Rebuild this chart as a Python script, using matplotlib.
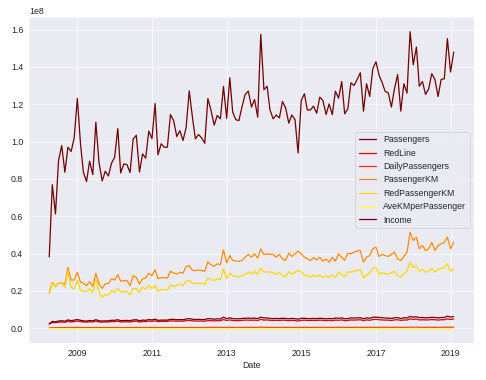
import numpy as np
import pandas as pd
import matplotlib
matplotlib.use('Agg')
import matplotlib.pyplot as plt
import seaborn as sns

# monthly series, Apr 2008 .. Feb 2019 (values in millions unless noted)
passengers = [
    38.2, 76.9, 61.2, 89.8, 97.9, 83.6, 97.0, 94.7, 102.0,
    123.1, 98.8, 83.6, 78.6, 89.5, 82.3, 110.4, 88.9, 78.9, 84.1, 81.6, 88.4,
    91.6, 107.0, 83.2, 88.0, 87.7, 83.4, 101.3, 103.4, 83.7, 93.4, 91.1, 105.6,
    101.6, 120.4, 92.9, 98.8, 97.0, 97.0, 114.5, 111.3, 102.7, 105.9, 100.6, 107.4,
    127.2, 113.1, 101.5, 103.8, 102.0, 99.1, 123.1, 116.7, 108.8, 114.0, 112.2, 129.6,
    112.4, 134.2, 115.8, 111.7, 111.3, 118.8, 125.3, 127.1, 118.5, 122.6, 113.1, 157.5,
    127.8, 129.7, 117.0, 112.2, 114.3, 112.7, 121.5, 118.1, 109.9, 114.3, 111.8, 93.9,
    122.1, 125.6, 117.0, 117.0, 119.0, 115.2, 123.8, 122.1, 114.5, 120.2, 114.5, 127.0,
    123.3, 132.2, 114.9, 117.6, 131.5, 130.1, 133.3, 136.9, 116.3, 131.0, 124.2, 139.1,
    142.8, 135.5, 131.9, 126.9, 126.2, 118.5, 128.3, 136.0, 116.3, 131.0, 126.0, 158.9,
    141.2, 150.7, 129.7, 132.2, 125.3, 128.3, 136.4, 133.3, 124.2, 133.3, 133.7, 155.2,
    137.3, 148.0]

red_line = [
    2.2, 3.0, 2.9, 3.2, 3.3, 3.1, 3.6, 3.3, 3.5,
    3.8, 3.5, 3.3, 3.2, 3.4, 3.3, 3.7, 3.3, 3.2, 3.3, 3.3, 3.5,
    3.5, 3.7, 3.3, 3.4, 3.4, 3.3, 3.6, 3.7, 3.3, 3.5, 3.5, 3.8,
    3.6, 3.9, 3.5, 3.6, 3.6, 3.6, 3.9, 3.8, 3.7, 3.8, 3.7, 4.0,
    4.1, 3.9, 3.8, 3.8, 3.8, 3.7, 4.1, 4.0, 3.9, 4.0, 4.0, 4.6,
    4.1, 4.4, 4.1, 4.0, 4.0, 4.2, 4.3, 4.3, 4.2, 4.3, 4.1, 4.7,
    4.3, 4.4, 4.2, 4.1, 4.2, 4.1, 4.3, 4.2, 4.0, 4.2, 4.1, 3.8,
    4.2, 4.3, 4.1, 4.1, 4.2, 4.1, 4.3, 4.2, 4.0, 4.2, 4.0, 4.3,
    4.2, 4.4, 4.0, 4.1, 4.4, 4.3, 4.4, 4.5, 4.0, 4.4, 4.2, 4.6,
    4.7, 4.5, 4.4, 4.3, 4.3, 4.1, 4.4, 4.5, 4.1, 4.4, 4.3, 5.0,
    4.7, 4.8, 4.4, 4.5, 4.4, 4.4, 4.6, 4.5, 4.3, 4.5, 4.5, 5.0,
    4.6, 4.9]

# thousands
daily_passengers = [
    127, 256, 204, 299, 326, 279, 323, 316, 340,
    410, 329, 279, 262, 298, 274, 368, 296, 263, 280, 272, 295,
    305, 357, 277, 293, 292, 278, 338, 345, 279, 311, 304, 352,
    339, 401, 310, 329, 323, 323, 382, 371, 342, 353, 335, 358,
    424, 377, 338, 346, 340, 330, 410, 389, 363, 380, 374, 432,
    375, 447, 386, 372, 371, 396, 418, 424, 395, 409, 377, 525,
    426, 432, 390, 374, 381, 376, 405, 394, 366, 381, 373, 313,
    407, 419, 390, 390, 397, 384, 413, 407, 382, 401, 382, 423,
    411, 441, 383, 392, 438, 434, 444, 456, 388, 437, 414, 464,
    476, 452, 440, 423, 421, 395, 428, 453, 388, 437, 420, 530,
    471, 502, 432, 441, 418, 428, 455, 444, 414, 444, 446, 517,
    458, 493]

passenger_km = [
    18.7, 24.6, 22.2, 24.2, 24.2, 23.5, 32.6, 25.8, 25.8,
    29.9, 24.6, 24.2, 22.8, 24.9, 22.4, 29.4, 23.7, 21.3, 23.7, 24.0, 26.4,
    25.8, 28.7, 25.1, 25.5, 25.5, 22.8, 28.1, 27.2, 23.7, 26.4, 26.9, 29.4,
    28.1, 31.4, 26.5, 27.0, 27.0, 26.8, 30.5, 29.6, 29.0, 29.9, 29.4, 33.0,
    33.5, 31.0, 30.8, 31.2, 30.8, 30.5, 35.5, 34.0, 33.2, 34.5, 34.0, 42.0,
    35.0, 38.9, 36.3, 36.0, 35.8, 36.3, 38.0, 39.5, 38.0, 39.8, 37.5, 42.5,
    39.5, 39.8, 39.6, 39.5, 38.0, 39.5, 37.1, 36.3, 40.2, 38.4, 39.8, 41.3,
    39.8, 38.0, 37.1, 36.3, 37.7, 36.6, 38.0, 35.9, 37.1, 35.4, 38.0, 35.9,
    39.8, 38.0, 36.3, 40.2, 39.8, 40.7, 41.3, 41.6, 35.4, 38.0, 38.9, 42.5,
    43.4, 38.4, 39.5, 38.9, 38.4, 39.5, 40.7, 37.1, 36.3, 38.4, 40.7, 51.4,
    47.0, 48.8, 42.5, 44.3, 41.6, 42.5, 46.0, 41.6, 44.3, 45.2, 46.0, 48.8,
    42.5, 46.1]

red_passenger_km = [
    18.7, 24.6, 22.4, 24.2, 24.0, 21.9, 30.8, 21.9, 21.0,
    25.5, 20.5, 19.7, 19.7, 21.0, 19.2, 26.4, 19.2, 16.5, 17.9, 17.9, 20.1,
    19.2, 21.3, 19.2, 19.6, 19.6, 17.9, 21.3, 21.0, 19.2, 21.9, 21.0, 22.8,
    21.3, 22.8, 19.7, 20.6, 20.5, 20.5, 23.1, 22.4, 22.8, 23.7, 22.8, 25.1,
    25.5, 24.0, 23.8, 24.2, 24.0, 23.5, 27.0, 26.0, 25.5, 26.5, 26.0, 32.0,
    26.5, 29.5, 28.0, 27.8, 27.5, 28.0, 29.0, 30.0, 29.0, 30.5, 28.8, 32.3,
    30.0, 30.2, 30.0, 29.8, 28.8, 29.8, 28.2, 27.5, 30.3, 29.0, 30.0, 31.0,
    30.0, 28.6, 28.0, 27.4, 28.3, 27.6, 28.6, 27.2, 28.0, 27.0, 28.6, 27.2,
    30.0, 28.6, 27.5, 30.2, 30.0, 30.5, 31.0, 31.3, 27.0, 28.6, 29.2, 32.0,
    32.5, 29.0, 29.7, 29.2, 29.0, 29.7, 30.5, 28.0, 27.5, 29.0, 30.5, 35.4,
    32.5, 33.5, 30.5, 31.5, 30.0, 30.5, 32.0, 30.0, 31.5, 32.0, 32.5, 34.5,
    30.5, 31.5]

# km, raw units
ave_km_per_passenger = [
    4.9, 3.2, 3.6, 2.7, 2.5, 2.8, 3.4, 2.7, 2.5,
    2.4, 2.5, 2.9, 2.9, 2.8, 2.7, 2.7, 2.7, 2.7, 2.8, 2.9, 3.0,
    2.8, 2.7, 3.0, 2.9, 2.9, 2.7, 2.8, 2.6, 2.8, 2.8, 3.0, 2.8,
    2.8, 2.6, 2.9, 2.7, 2.8, 2.8, 2.7, 2.7, 2.8, 2.8, 2.9, 3.1,
    2.6, 2.7, 3.0, 3.0, 3.0, 3.1, 2.9, 2.9, 3.1, 3.0, 3.0, 3.2,
    3.1, 2.9, 3.1, 3.2, 3.2, 3.1, 3.0, 3.1, 3.2, 3.2, 3.3, 2.7,
    3.1, 3.1, 3.4, 3.5, 3.3, 3.5, 3.1, 3.1, 3.7, 3.4, 3.6, 4.4,
    3.3, 3.0, 3.2, 3.1, 3.2, 3.2, 3.1, 2.9, 3.2, 2.9, 3.3, 2.8,
    3.2, 2.9, 3.2, 3.4, 3.0, 3.1, 3.1, 3.0, 3.0, 2.9, 3.1, 3.1,
    3.0, 2.8, 3.0, 3.1, 3.0, 3.3, 3.2, 2.7, 3.1, 2.9, 3.2, 3.2,
    3.3, 3.2, 3.3, 3.4, 3.3, 3.3, 3.4, 3.1, 3.6, 3.4, 3.4, 3.1,
    3.1, 3.1]

income = [
    2.3, 3.6, 3.4, 3.8, 4.0, 3.7, 4.4, 4.0, 4.3,
    4.6, 4.2, 3.9, 3.8, 4.1, 3.9, 4.5, 4.0, 3.8, 3.9, 3.9, 4.2,
    4.2, 4.5, 4.0, 4.1, 4.1, 4.0, 4.4, 4.5, 4.0, 4.3, 4.2, 4.6,
    4.4, 4.8, 4.2, 4.3, 4.3, 4.3, 4.7, 4.7, 4.5, 4.6, 4.5, 4.9,
    5.1, 4.8, 4.6, 4.7, 4.6, 4.6, 5.1, 5.0, 4.8, 5.0, 4.9, 5.9,
    5.1, 5.5, 5.1, 5.0, 5.0, 5.2, 5.3, 5.4, 5.2, 5.4, 5.1, 5.9,
    5.4, 5.5, 5.2, 5.1, 5.2, 5.1, 5.3, 5.2, 5.0, 5.2, 5.1, 4.8,
    5.3, 5.3, 5.1, 5.1, 5.2, 5.1, 5.3, 5.2, 5.0, 5.2, 5.0, 5.4,
    5.3, 5.5, 5.0, 5.1, 5.5, 5.4, 5.5, 5.6, 5.0, 5.5, 5.3, 5.8,
    5.9, 5.7, 5.6, 5.4, 5.4, 5.2, 5.5, 5.7, 5.1, 5.6, 5.4, 6.3,
    5.9, 6.1, 5.6, 5.7, 5.5, 5.6, 5.8, 5.7, 5.5, 5.7, 5.7, 6.4,
    5.9, 6.2]

tick_years = ['2009', '2011', '2013', '2015', '2017', '2019']

dates = pd.date_range('2008-04-01', periods=len(passengers), freq='MS')
df = pd.DataFrame({
    'Passengers': np.array(passengers) * 1e6,
    'RedLine': np.array(red_line) * 1e6,
    'DailyPassengers': np.array(daily_passengers) * 1e3,
    'PassengerKM': np.array(passenger_km) * 1e6,
    'RedPassengerKM': np.array(red_passenger_km) * 1e6,
    'AveKMperPassenger': ave_km_per_passenger,
    'Income': np.array(income) * 1e6,
}, index=dates)

colors = ['#730000', '#dc0000', '#ff3010', '#ff8c00', '#ffd700', '#ffff40', '#730000']

sns.set_style('darkgrid')
plt.rcParams['font.family'] = ['Liberation Sans', 'DejaVu Sans']
plt.rcParams['font.size'] = 10.5

fig = plt.figure(figsize=(486 / 60, 380 / 60), dpi=60)
ax = fig.add_axes([0.0597, 0.0975, 0.9155, 0.858])

for col, c in zip(df.columns, colors):
    ax.plot(df.index, df[col], color=c, lw=1.5, label=col)

ax.set_xticks(pd.to_datetime(tick_years))
ax.set_xticklabels(tick_years)
ax.set_xlabel('Date')
ax.legend(loc='center right', fontsize=10.5)

fig.savefig('out.png', dpi=60)
